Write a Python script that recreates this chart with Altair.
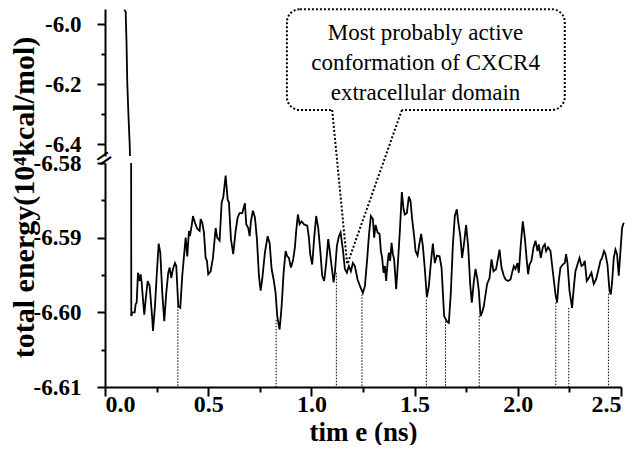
import altair as alt
import pandas as pd

# ---------------- data ----------------
time_ns = [
    0.0935, 0.1002, 0.1041, 0.1080, 0.1138, 0.1196,
    0.1274, 0.1322, 0.1438, 0.1487, 0.1535, 0.1598, 0.1680, 0.1729, 0.1777, 0.1840,
    0.1903, 0.1971, 0.2068, 0.2165, 0.2291, 0.2324, 0.2421, 0.2504, 0.2600, 0.2678,
    0.2775, 0.2872, 0.2968, 0.3065, 0.3133, 0.3211, 0.3293, 0.3390, 0.3453, 0.3550,
    0.3646, 0.3743, 0.3826, 0.3908, 0.3985, 0.4068, 0.4116, 0.4199, 0.4261, 0.4358,
    0.4470, 0.4586, 0.4634, 0.4712, 0.4794, 0.4876, 0.4939, 0.5002, 0.5119, 0.5230,
    0.5361, 0.5438, 0.5554, 0.5651, 0.5729, 0.5845, 0.5942, 0.6005, 0.6102, 0.6213,
    0.6329, 0.6426, 0.6523, 0.6649, 0.6780, 0.6843, 0.6939, 0.7007, 0.7070, 0.7167,
    0.7264, 0.7361, 0.7458, 0.7540, 0.7617, 0.7748, 0.7879, 0.7976, 0.8073, 0.8169,
    0.8266, 0.8344, 0.8460, 0.8557, 0.8654, 0.8751, 0.8828, 0.8910, 0.9007, 0.9104,
    0.9201, 0.9264, 0.9346, 0.9429, 0.9525, 0.9637, 0.9797, 0.9879, 0.9942, 1.0039,
    1.0136, 1.0232, 1.0329, 1.0426, 1.0523, 1.0620, 1.0717, 1.0814, 1.0881, 1.0978,
    1.1075, 1.1138, 1.1235, 1.1332, 1.1414, 1.1525, 1.1622, 1.1719, 1.1816, 1.1913,
    1.2010, 1.2107, 1.2237, 1.2383, 1.2494, 1.2591, 1.2702, 1.2784, 1.2881, 1.2978,
    1.3041, 1.3109, 1.3206, 1.3303, 1.3366, 1.3428, 1.3496, 1.3559, 1.3622, 1.3690,
    1.3753, 1.3816, 1.3884, 1.3947, 1.4010, 1.4107, 1.4203, 1.4300, 1.4382, 1.4465,
    1.4528, 1.4625, 1.4722, 1.4804, 1.4881, 1.4978, 1.5046, 1.5143, 1.5240, 1.5317,
    1.5400, 1.5496, 1.5593, 1.5690, 1.5787, 1.5884, 1.5981, 1.6077, 1.6208, 1.6305,
    1.6431, 1.6562, 1.6659, 1.6755, 1.6852, 1.6949, 1.7046, 1.7109, 1.7215, 1.7302,
    1.7399, 1.7496, 1.7593, 1.7700, 1.7772, 1.7869, 1.7951, 1.8039, 1.8111, 1.8194,
    1.8271, 1.8353, 1.8513, 1.8630, 1.8726, 1.8823, 1.8949, 1.9114, 1.9210, 1.9322,
    1.9404, 1.9530, 1.9646, 1.9724, 1.9806, 1.9888, 1.9985, 2.0048, 2.0145, 2.0242,
    2.0339, 2.0436, 2.0499, 2.0566, 2.0663, 2.0760, 2.0857, 2.0954, 2.1017, 2.1114,
    2.1211, 2.1308, 2.1370, 2.1467, 2.1584, 2.1695, 2.1826, 2.1903, 2.1985, 2.2067,
    2.2179, 2.2276, 2.2339, 2.2407, 2.2504, 2.2630, 2.2712, 2.2794, 2.2891, 2.2988,
    2.3085, 2.3181, 2.3245, 2.3341, 2.3438, 2.3568, 2.3680, 2.3792, 2.3889, 2.4005,
    2.4082, 2.4179, 2.4247, 2.4344, 2.4441, 2.4504, 2.4567, 2.4649, 2.4731, 2.4809,
    2.4891, 2.4973, 2.5051, 2.5133,
]
energy = [
    -5.9527, -5.9593, -6.0577, -6.1977, -6.3077, -6.4010,
    -6.6005, -6.6000, -6.6000, -6.5989, -6.5987, -6.5947, -6.5958, -6.5949, -6.5960, -6.5983,
    -6.6003, -6.5983, -6.5958, -6.5965, -6.6009, -6.6025, -6.5992, -6.5951, -6.5908, -6.5920,
    -6.5974, -6.6012, -6.5974, -6.5947, -6.5940, -6.5954, -6.5942, -6.5934, -6.5938, -6.5992,
    -6.5994, -6.5951, -6.5925, -6.5900, -6.5925, -6.5891, -6.5898, -6.5884, -6.5871, -6.5880,
    -6.5888, -6.5891, -6.5875, -6.5880, -6.5893, -6.5927, -6.5931, -6.5949, -6.5945, -6.5927,
    -6.5887, -6.5900, -6.5904, -6.5853, -6.5846, -6.5817, -6.5849, -6.5853, -6.5902, -6.5922,
    -6.5891, -6.5873, -6.5867, -6.5867, -6.5854, -6.5882, -6.5887, -6.5898, -6.5878, -6.5864,
    -6.5873, -6.5902, -6.5951, -6.5971, -6.5956, -6.5920, -6.5898, -6.5907, -6.5942, -6.5956,
    -6.5974, -6.6005, -6.6023, -6.5992, -6.5947, -6.5918, -6.5925, -6.5927, -6.5940, -6.5931,
    -6.5913, -6.5891, -6.5869, -6.5882, -6.5878, -6.5882, -6.5884, -6.5900, -6.5922, -6.5936,
    -6.5900, -6.5871, -6.5887, -6.5916, -6.5951, -6.5958, -6.5934, -6.5902, -6.5916, -6.5938,
    -6.5960, -6.5947, -6.5911, -6.5898, -6.5893, -6.5916, -6.5942, -6.5947, -6.5938, -6.5945,
    -6.5934, -6.5938, -6.5956, -6.5967, -6.5974, -6.5965, -6.5929, -6.5898, -6.5871, -6.5875,
    -6.5900, -6.5883, -6.5893, -6.5895, -6.5918, -6.5927, -6.5947, -6.5938, -6.5958, -6.5934,
    -6.5920, -6.5931, -6.5907, -6.5922, -6.5929, -6.5969, -6.5929, -6.5884, -6.5839, -6.5862,
    -6.5869, -6.5867, -6.5845, -6.5851, -6.5875, -6.5898, -6.5918, -6.5924, -6.5907, -6.5895,
    -6.5911, -6.5942, -6.5980, -6.5965, -6.5934, -6.5908, -6.5934, -6.5924, -6.5925, -6.5940,
    -6.6005, -6.6012, -6.6014, -6.5974, -6.5911, -6.5871, -6.5862, -6.5878, -6.5898, -6.5927,
    -6.5907, -6.5883, -6.5911, -6.5965, -6.5987, -6.5959, -6.5942, -6.5955, -6.5971, -6.6005,
    -6.6000, -6.5992, -6.5962, -6.5954, -6.5929, -6.5945, -6.5942, -6.5916, -6.5940, -6.5951,
    -6.5956, -6.5958, -6.5956, -6.5947, -6.5938, -6.5942, -6.5934, -6.5947, -6.5909, -6.5878,
    -6.5900, -6.5931, -6.5949, -6.5936, -6.5931, -6.5913, -6.5904, -6.5918, -6.5909, -6.5927,
    -6.5913, -6.5909, -6.5918, -6.5913, -6.5918, -6.5945, -6.5976, -6.5987, -6.5958, -6.5940,
    -6.5936, -6.5934, -6.5922, -6.5934, -6.5971, -6.5994, -6.5967, -6.5945, -6.5936, -6.5927,
    -6.5938, -6.5936, -6.5931, -6.5958, -6.5954, -6.5947, -6.5962, -6.5956, -6.5945, -6.5931,
    -6.5927, -6.5918, -6.5922, -6.5936, -6.5971, -6.5976, -6.5960, -6.5927, -6.5916, -6.5922,
    -6.5951, -6.5918, -6.5887, -6.5880,
]

# dotted drop lines from the local minima
dip_time = [0.353, 0.829, 1.121, 1.245, 1.557, 1.650, 1.813, 2.184, 2.247, 2.439]
dip_energy = [-6.5992, -6.6010, -6.5947, -6.5976, -6.5983, -6.6012, -6.6005, -6.5987, -6.5994, -6.5975]

# call-out (in data units of the lower panel)
callout_lines = ["Most probably active", "conformation of CXCR4", "extracellular domain"]
callout_box_t = [0.8814, 2.2276]
callout_box_e = [-6.5729, -6.5594]
callout_text_t = [1.553]
callout_text_e = [-6.5626]
pointer_base_t = [1.1007, 1.4383]
pointer_base_e = [-6.5729, -6.5729]
pointer_tip_t = [1.1734, 1.1734]
pointer_tip_e = [-6.5936, -6.5936]

x_ticks = [0, 0.25, 0.5, 0.75, 1.0, 1.25, 1.5, 1.75, 2.0, 2.25, 2.5]
y_low_ticks = [-6.61, -6.605, -6.60, -6.595, -6.59, -6.585, -6.58]
y_up_ticks = [-6.4, -6.3, -6.2, -6.1, -6.0]

FONT = "Liberation Serif"
W = 516

series = pd.DataFrame({"t": time_ns, "e": energy})
dips = pd.DataFrame({"t": dip_time, "e": dip_energy, "e2": [-6.61] * len(dip_time)})
box = pd.DataFrame({"t": [callout_box_t[0]], "t2": [callout_box_t[1]],
                    "e": [callout_box_e[0]], "e2": [callout_box_e[1]]})
gap = pd.DataFrame({"t": [pointer_base_t[0]], "t2": [pointer_base_t[1]], "e": [pointer_base_e[0]]})
pointers = pd.DataFrame({"t": pointer_base_t, "e": pointer_base_e,
                         "t2": pointer_tip_t, "e2": pointer_tip_e})
label = pd.DataFrame({"t": callout_text_t, "e": callout_text_e})
brk = pd.DataFrame({"t": [0.0], "e": [-6.5795]})

xs = alt.Scale(domain=[0, 2.5], nice=False, zero=False)
ys_low = alt.Scale(domain=[-6.61, -6.58], nice=False, zero=False)
ys_up = alt.Scale(domain=[-6.44, -5.95], nice=False, zero=False)

x_axis = alt.Axis(
    values=x_ticks,
    labelExpr="round(datum.value*4) % 2 == 0 ? format(datum.value, '.1f') : ''",
    tickSize={"condition": {"test": "round(datum.value*4) % 2 == 0", "value": 9}, "value": 5},
    labelPadding=-4, labelFontSize=24,
    title="tim e (ns)", titleFontSize=27, titleBaseline="alphabetic", titleY=53,
)
y_low_axis = alt.Axis(
    values=y_low_ticks,
    labelExpr="round(datum.value*1000) % 10 == 0 ? '-' + format(abs(datum.value), '.2f') : ''",
    tickSize={"condition": {"test": "round(datum.value*1000) % 10 == 0", "value": 8}, "value": 4},
    labelPadding=16, labelFontSize=23,
    title="total energy(10⁴kcal/mol)", titleFontSize=30, titleAngle=270,
    titleAlign="center", titleBaseline="alphabetic", titleX=-72, titleY=34,
)
y_up_axis = alt.Axis(
    values=y_up_ticks,
    labelExpr="round(datum.value*10) % 2 == 0 ? '-' + format(abs(datum.value), '.1f') : ''",
    tickSize={"condition": {"test": "round(datum.value*10) % 2 == 0", "value": 8}, "value": 4},
    labelPadding=16, labelFontSize=23, title=None,
)

# ---------------- upper panel ----------------
top = alt.Chart(series).mark_line(color="black", strokeWidth=1.8, clip=True).encode(
    x=alt.X("t:Q", scale=xs, axis=None),
    y=alt.Y("e:Q", scale=ys_up, axis=y_up_axis),
    order="t:Q",
).properties(width=W, height=147)

# ---------------- lower panel ----------------
X = lambda: alt.X("t:Q", scale=xs, axis=x_axis)
Y = lambda: alt.Y("e:Q", scale=ys_low, axis=y_low_axis)

head = alt.Chart(series).transform_filter("datum.t <= 0.1274").mark_line(
    color="black", strokeWidth=1.8, clip=True).encode(x=X(), y=Y(), order="t:Q")
tail = alt.Chart(series).transform_filter("datum.t >= 0.1274").mark_line(
    color="black", strokeWidth=1.8, clip=False).encode(x=X(), y=Y(), order="t:Q")
drops = alt.Chart(dips).mark_rule(color="black", strokeWidth=1, strokeDash=[1.5, 1.5]).encode(
    x=X(), y=Y(), y2="e2:Q")
bubble = alt.Chart(box).mark_rect(
    fillOpacity=0, stroke="black", strokeWidth=2, strokeDash=[2, 2], cornerRadius=13, clip=False
).encode(x=X(), x2="t2:Q", y=Y(), y2="e2:Q")
eraser = alt.Chart(gap).mark_rule(color="white", strokeWidth=4, clip=False).encode(
    x=X(), x2="t2:Q", y=Y())
point = alt.Chart(pointers).mark_rule(color="black", strokeWidth=2, strokeDash=[2, 2], clip=False).encode(
    x=X(), x2="t2:Q", y=Y(), y2="e2:Q")
words = alt.Chart(label).mark_text(
    text=callout_lines, font=FONT, fontSize=23, lineHeight=30, color="black",
    align="center", baseline="middle", clip=False
).encode(x=X(), y=Y())
breakmark = alt.Chart(brk).mark_text(
    text="=", font=FONT, fontSize=28, fontWeight="bold", angle=325, color="black",
    align="center", baseline="middle", clip=False
).encode(x=X(), y=Y())

bottom = alt.layer(head, tail, drops, bubble, eraser, point, words, breakmark).properties(
    width=W, height=224)

chart = alt.vconcat(top, bottom, spacing=7).properties(
    bounds="flush",
    padding={"left": 0, "top": 0, "right": 0, "bottom": 0},
    background="white",
).configure_view(stroke=None).configure_axis(
    labelFont=FONT, titleFont=FONT, labelFontWeight="bold", titleFontWeight="bold",
    labelColor="black", titleColor="black", domainColor="black", tickColor="black",
    domainWidth=2, tickWidth=2, grid=False,
)

chart.save("out.html", embed_options={"renderer": "svg", "actions": False})
